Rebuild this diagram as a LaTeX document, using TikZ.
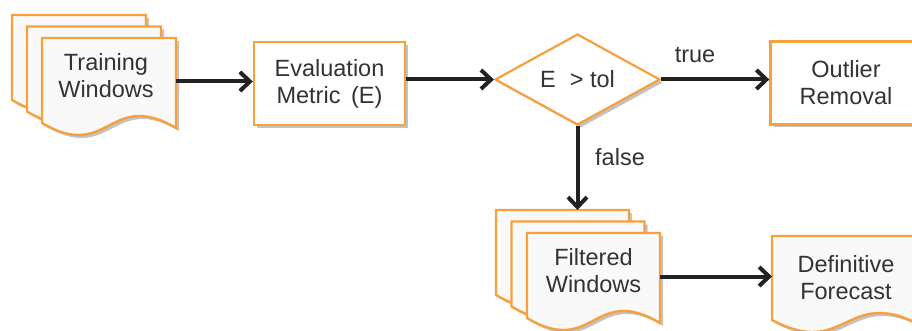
\documentclass[tikz,border=0pt]{standalone}
\usepackage{fontspec}
\setmainfont{Liberation Sans}
\usetikzlibrary{arrows.meta,shapes.geometric,shadows}
\definecolor{orng}{RGB}{247,160,62}
\definecolor{txtc}{RGB}{51,51,51}
\definecolor{arrc}{RGB}{34,34,34}
\definecolor{shd}{RGB}{195,195,195}
\definecolor{docfill}{RGB}{251,251,251}
\tikzset{
  txt/.style={font=\fontsize{23.5}{27}\selectfont, text=txtc, align=center, inner sep=0pt},
  box/.style={txt, draw=orng, line width=2.4pt, fill=white, minimum width=151pt, minimum height=83pt,
    drop shadow={shadow xshift=3pt, shadow yshift=-3pt, fill=shd, opacity=1}},
  dia/.style={txt, shape=diamond, draw=orng, line width=2.2pt, fill=white, minimum width=165pt, minimum height=91pt, aspect=1.8,
    drop shadow={shadow xshift=3pt, shadow yshift=-3pt, fill=shd, opacity=1}},
  frame/.style={inner sep=0pt, outer sep=0pt},
  docst/.style={draw=orng, line width=2.4pt, fill=docfill, fill opacity=0.97},
  arr/.style={line width=4pt, draw=arrc, -{Straight Barb[length=10pt,width=19pt]}},
}
\newcommand\docpath[4]{(#1,#2) -- ({#1+#3},#2) -- ({#1+#3},{#2+#4+2.5}) .. controls ({#1+0.5*#3},{#2+#4-37}) and ({#1+0.5*#3},{#2+#4+37}) .. (#1,{#2+#4-2.5}) -- cycle}
\newcommand\mydoc[4]{%
  \fill[shd, shift={(3,3)}] \docpath{#1}{#2}{#3}{#4};
  \draw[docst] \docpath{#1}{#2}{#3}{#4};
}
\begin{document}
\begin{tikzpicture}[x=1pt,y=-1pt]
\useasboundingbox (0,0) rectangle (912,331);
\fill[white] (0,0) rectangle (912,331);
% Training windows stack
\mydoc{12}{15}{134}{87.5}
\mydoc{27}{26.5}{134}{87.5}
\mydoc{42}{38}{134}{87.5}
\node[frame, minimum width=134pt, minimum height=87pt] (trainf) at (109,81.5) {};
\node[txt] (traint) at (106,76) {Training\\Windows};
% Evaluation
\node[box] (evalb) at (329.5,83.5) {Evaluation\\Metric\hspace{0.45em}(E)};
% Decision
\node[dia] (dec) at (577.5,79.5) {E\hspace{0.6em}> tol};
% Outlier
\node[box] (outl) at (846,83) {Outlier\\Removal};
% Filtered windows stack
\mydoc{496}{210}{133}{87.5}
\mydoc{511.5}{221.5}{133}{87.5}
\mydoc{527}{233}{133}{87.5}
\coordinate (fbtop) at (577.5,210);
\node[frame, minimum width=133pt, minimum height=87pt] (filtf) at (593.5,276.5) {};
\node[txt] (filtt) at (593.5,270.5) {Filtered\\Windows};
% Definitive forecast
\mydoc{772}{236}{148}{86.5}
\node[frame, minimum width=148pt, minimum height=84pt] (deff) at (846,278) {};
\node[txt] (deft) at (846,278) {Definitive\\Forecast};
% connectors
\draw[arr] (trainf.east) -- (trainf.east -| evalb.west);
\draw[arr] (evalb.east |- dec.west) -- (dec.west);
\draw[arr] (dec.east) -- (dec.east -| outl.west);
\draw[arr] (dec.south) -- (dec.south |- fbtop);
\draw[arr] (filtf.east) -- (filtf.east -| deff.west);
\node[txt] (truel) at (695,55) {true};
\node[txt] (falsel) at (620,157) {false};
\end{tikzpicture}
\end{document}
